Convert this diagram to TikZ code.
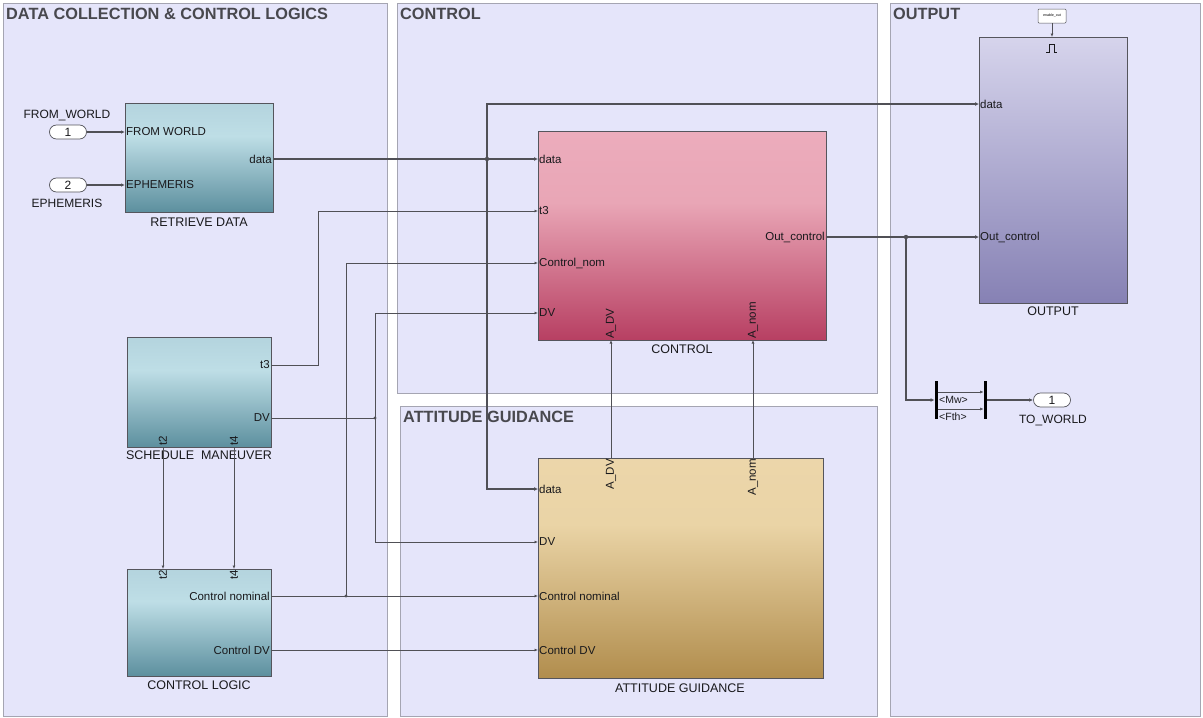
\documentclass[tikz,border=0pt]{standalone}
\usepackage{fontspec}
\setmainfont{Liberation Sans}
\usetikzlibrary{arrows.meta,calc,shapes.misc}

% palette
\definecolor{areafill}{RGB}{229,229,250}
\definecolor{areaedge}{RGB}{165,165,178}
\definecolor{titlegray}{RGB}{72,72,78}
\definecolor{wirec}{RGB}{80,80,86}
\definecolor{blkedge}{RGB}{85,85,92}
\definecolor{txt}{RGB}{25,25,28}
\definecolor{rdtop}{RGB}{180,212,222}
\definecolor{rdmid}{RGB}{190,222,230}
\definecolor{rdbot}{RGB}{92,143,158}
\definecolor{cttop}{RGB}{236,172,188}
\definecolor{ctmid}{RGB}{233,166,182}
\definecolor{ctbot}{RGB}{183,63,98}
\definecolor{agtop}{RGB}{236,214,170}
\definecolor{agmid}{RGB}{234,212,166}
\definecolor{agbot}{RGB}{177,141,77}
\definecolor{outtop}{RGB}{214,212,236}
\definecolor{outbot}{RGB}{134,129,180}

% block fills (25bp = bottom edge, 75bp = top edge)
\pgfdeclareverticalshading{shteal}{100bp}{color(0bp)=(rdbot); color(25bp)=(rdbot); color(60bp)=(rdmid); color(75bp)=(rdtop); color(100bp)=(rdtop)}
\pgfdeclareverticalshading{shpink}{100bp}{color(0bp)=(ctbot); color(25bp)=(ctbot); color(58bp)=(ctmid); color(75bp)=(cttop); color(100bp)=(cttop)}
\pgfdeclareverticalshading{shsand}{100bp}{color(0bp)=(agbot); color(25bp)=(agbot); color(60bp)=(agmid); color(75bp)=(agtop); color(100bp)=(agtop)}
\pgfdeclareverticalshading{shviolet}{100bp}{color(0bp)=(outbot); color(25bp)=(outbot); color(75bp)=(outtop); color(100bp)=(outtop)}

\tikzset{
  area/.style={draw=areaedge, line width=0.9pt, fill=areafill, anchor=north west, inner sep=0pt},
  areatitle/.style={anchor=base west, inner sep=0pt, text=titlegray, font=\bfseries\fontsize{16.3}{18}\selectfont},
  blk/.style={draw=blkedge, line width=0.7pt, anchor=north west, inner sep=0pt},
  blkname/.style={text=txt, inner sep=0pt, font=\fontsize{12.5}{14}\selectfont},
  plab/.style={text=txt, inner sep=1pt, font=\fontsize{11.5}{13}\selectfont},
  vlab/.style={plab, rotate=90},
  wire/.style={draw=wirec, line width=0.7pt},
  sig/.style={wire, -{Latex[length=3.5pt,width=3pt]}},
  bus/.style={draw=wirec, line width=2pt},
  busarr/.style={bus, -{Latex[length=4pt,width=4pt]}},
  port/.style={rounded rectangle, draw=blkedge, fill=white, line width=0.7pt, minimum width=37pt, minimum height=14pt, inner sep=0pt, text=txt, font=\fontsize{12}{13}\selectfont},
  bar/.style={fill=black, minimum width=3pt, minimum height=38pt, inner sep=0pt},
  dot/.style={fill=wirec}
}

\begin{document}
\begin{tikzpicture}[x=1pt,y=-1pt]
\useasboundingbox (0,0) rectangle (1203,718);
\fill[white] (0,0) rectangle (1203,718);

% ---------- areas ----------
\node[area, minimum width=384pt, minimum height=713pt] (adc) at (3,3) {};
\node[area, minimum width=480pt, minimum height=390pt] (actl) at (397,3) {};
\node[area, minimum width=477pt, minimum height=310pt] (aatt) at (400,406) {};
\node[area, minimum width=310pt, minimum height=713pt] (aout) at (890,3) {};
\node[areatitle] (tdc) at (6,19) {DATA COLLECTION \& CONTROL LOGICS};
\node[areatitle] (tctl) at (400,19) {CONTROL};
\node[areatitle] (tatt) at (403,422) {ATTITUDE GUIDANCE};
\node[areatitle] (tout) at (893,19) {OUTPUT};

% ---------- blocks ----------
\node[blk, shading=shteal, minimum width=148pt, minimum height=109pt] (rd) at (125,103) {};
\node[blk, shading=shteal, minimum width=144pt, minimum height=110pt] (sm) at (127,337) {};
\node[blk, shading=shteal, minimum width=144pt, minimum height=107pt] (cl) at (127,569) {};
\node[blk, shading=shpink, minimum width=288pt, minimum height=209pt] (ct) at (538,131) {};
\node[blk, shading=shsand, minimum width=285pt, minimum height=220pt] (ag) at (538,458) {};
\node[blk, shading=shviolet, minimum width=148pt, minimum height=266pt] (out) at (979,37) {};

\node[blkname] (nrd) at (199,222) {RETRIEVE DATA};
\node[blkname] (nsm) at (199,455) {SCHEDULE\ \ MANEUVER};
\node[blkname] (ncl) at (199,685) {CONTROL LOGIC};
\node[blkname] (nct) at (682,349) {CONTROL};
\node[blkname] (nag) at (680,688) {ATTITUDE GUIDANCE};
\node[blkname] (nout) at (1053,311) {OUTPUT};

% inports / outport
\node[port] (in1) at (68,132) {1};
\node[port] (in2) at (68,185) {2};
\node[port] (o1) at (1052,400) {1};
\node[plab, font=\fontsize{12}{13}\selectfont] (lin1) at (67,115) {FROM\_WORLD};
\node[plab, font=\fontsize{12}{13}\selectfont] (lin2) at (67,203) {EPHEMERIS};
\node[plab, font=\fontsize{12}{13}\selectfont] (lo1) at (1053,420) {TO\_WORLD};

% enable signal source
\node[draw=blkedge, fill=white, rounded corners=1pt, line width=0.5pt, minimum width=28pt, minimum height=14pt, inner sep=0pt, font=\fontsize{3.6}{4}\selectfont] (en) at (1052,16) {enable\_out};

% bus selector / creator bars
\node[bar] (bsel) at (936,400) {};
\node[bar] (bcre) at (985,400) {};

% ---------- port coordinates ----------
\coordinate (rd-in1) at (125,132);
\coordinate (rd-in2) at (125,185);
\coordinate (rd-out) at (273,159);
\coordinate (sm-t3) at (271,365);
\coordinate (sm-dv) at (271,418);
\coordinate (sm-t2) at (163,447);
\coordinate (sm-t4) at (234,447);
\coordinate (cl-t2) at (163,569);
\coordinate (cl-t4) at (234,569);
\coordinate (cl-nom) at (271,596);
\coordinate (cl-dv) at (271,650);
\coordinate (ct-data) at (538,159);
\coordinate (ct-t3) at (538,211);
\coordinate (ct-nom) at (538,263);
\coordinate (ct-dv) at (538,313);
\coordinate (ct-out) at (826,237);
\coordinate (ct-adv) at (611,340);
\coordinate (ct-anom) at (753,340);
\coordinate (ag-data) at (538,489);
\coordinate (ag-dv) at (538,542);
\coordinate (ag-nom) at (538,596);
\coordinate (ag-cdv) at (538,650);
\coordinate (ag-adv) at (611,458);
\coordinate (ag-anom) at (753,458);
\coordinate (out-data) at (979,104);
\coordinate (out-ctl) at (979,237);
\coordinate (out-en) at (1052,37);
\coordinate (bs-in) at (934.5,400);
\coordinate (bs-mw) at (937.5,392);
\coordinate (bs-fth) at (937.5,409);
\coordinate (bc-mw) at (983.5,392);
\coordinate (bc-fth) at (983.5,409);
\coordinate (bc-out) at (986.5,400);

% branch points
\coordinate (b-data) at (487,159);
\coordinate (b-dv) at (375,418);
\coordinate (b-nom) at (346,596);
\coordinate (b-out) at (906,237);
\coordinate (k-t3) at (318,365);

% ---------- port labels ----------
\node[plab, anchor=west] at (rd-in1) {FROM WORLD};
\node[plab, anchor=west] at (rd-in2) {EPHEMERIS};
\node[plab, anchor=east] at (rd-out) {data};
\node[plab, anchor=east] at (sm-t3) {t3};
\node[plab, anchor=east] at (sm-dv) {DV};
\node[vlab, anchor=west] at (sm-t2) {t2};
\node[vlab, anchor=west] at (sm-t4) {t4};
\node[vlab, anchor=east] at (cl-t2) {t2};
\node[vlab, anchor=east] at (cl-t4) {t4};
\node[plab, anchor=east] at (cl-nom) {Control nominal};
\node[plab, anchor=east] at (cl-dv) {Control DV};
\node[plab, anchor=west] at (ct-data) {data};
\node[plab, anchor=west] at (ct-t3) {t3};
\node[plab, anchor=west] at (ct-nom) {Control\_nom};
\node[plab, anchor=west] at (ct-dv) {DV};
\node[plab, anchor=east] at (ct-out) {Out\_control};
\node[vlab, anchor=west] at (ct-adv) {A\_DV};
\node[vlab, anchor=west] at (ct-anom) {A\_nom};
\node[plab, anchor=west] at (ag-data) {data};
\node[plab, anchor=west] at (ag-dv) {DV};
\node[plab, anchor=west] at (ag-nom) {Control nominal};
\node[plab, anchor=west] at (ag-cdv) {Control DV};
\node[vlab, anchor=east] at (ag-adv) {A\_DV};
\node[vlab, anchor=east] at (ag-anom) {A\_nom};
\node[plab, anchor=west] at (out-data) {data};
\node[plab, anchor=west] at (out-ctl) {Out\_control};
\node[plab, anchor=west, font=\fontsize{10.5}{12}\selectfont] at (938,399.5) {<Mw>};
\node[plab, anchor=west, font=\fontsize{10.5}{12}\selectfont] at (938,416.5) {<Fth>};

% enable pulse glyph
\draw[txt, line width=0.7pt] (1046,52) -- (1049,52) -- (1049,44) -- (1054,44) -- (1054,52) -- (1057,52);

% ---------- connectors ----------
\draw[bus, line width=1.6pt, -{Latex[length=4pt,width=3.5pt]}] (in1.east) -- (rd-in1);
\draw[bus, line width=1.6pt, -{Latex[length=4pt,width=3.5pt]}] (in2.east) -- (rd-in2);

\draw[bus] (rd-out) -- (b-data);
\draw[busarr] (b-data) -- (ct-data);
\draw[busarr] (b-data) |- (out-data);
\draw[busarr] (b-data) |- (ag-data);
\fill[dot] (b-data) circle (2.2pt);

\draw[sig] (sm-t3) -- (k-t3) |- (ct-t3);
\draw[wire] (sm-dv) -- (b-dv);
\draw[sig] (b-dv) |- (ct-dv);
\draw[sig] (b-dv) |- (ag-dv);
\fill[dot] (b-dv) circle (1.6pt);

\draw[sig] (sm-t2) -- (cl-t2);
\draw[sig] (sm-t4) -- (cl-t4);

\draw[wire] (cl-nom) -- (b-nom);
\draw[sig] (b-nom) -- (ag-nom);
\draw[sig] (b-nom) |- (ct-nom);
\fill[dot] (b-nom) circle (1.6pt);
\draw[sig] (cl-dv) -- (ag-cdv);

\draw[sig] (ag-adv) -- (ct-adv);
\draw[sig] (ag-anom) -- (ct-anom);

\draw[bus] (ct-out) -- (b-out);
\draw[busarr] (b-out) -- (out-ctl);
\draw[busarr] (b-out) |- (bs-in);
\fill[dot] (b-out) circle (2.2pt);

\draw[sig, line width=0.5pt] (bs-mw) -- (bc-mw);
\draw[sig, line width=0.5pt] (bs-fth) -- (bc-fth);
\draw[bus, line width=1.4pt, -{Latex[length=4pt,width=3.5pt]}] (bc-out) -- (o1.west);

\draw[sig] (en.south) -- (out-en);
\end{tikzpicture}
\end{document}
